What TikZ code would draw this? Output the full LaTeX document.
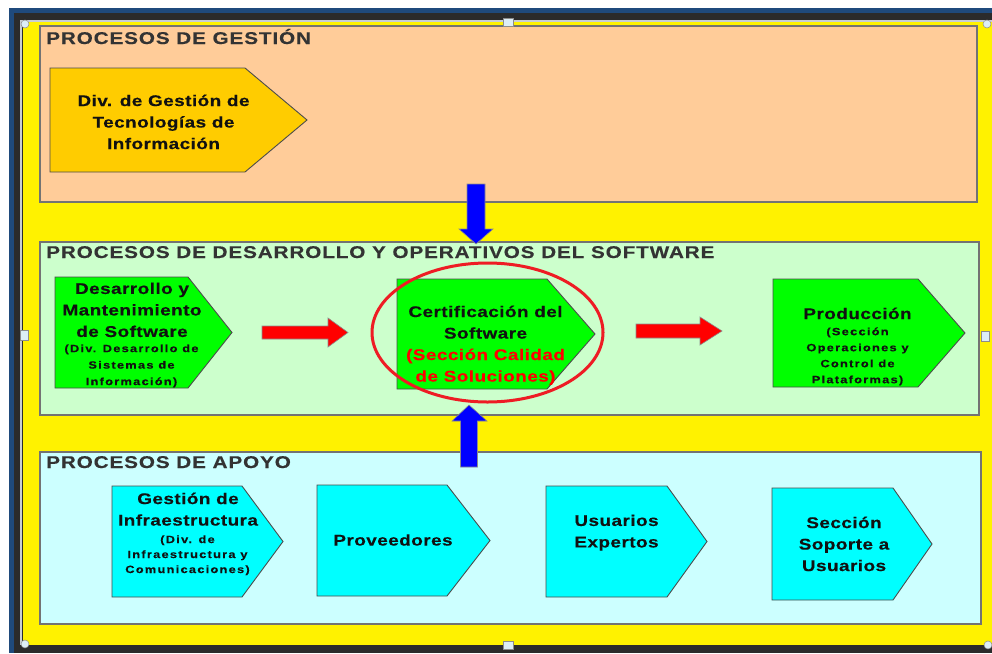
\documentclass[tikz,border=0pt]{standalone}
\usepackage{fontspec}
\setmainfont{Liberation Sans}
\newfontfamily\titlefam[FakeStretch=1.22,LetterSpace=5,FakeBold=0.3]{Liberation Sans}
\newfontfamily\boxfam[FakeStretch=1.22,LetterSpace=3,FakeBold=0.3]{Liberation Sans}
\newfontfamily\subfam[FakeStretch=1.22,LetterSpace=12,FakeBold=0.3]{Liberation Sans}
\newcommand\ptitle{\titlefam\bfseries\fontsize{17}{20}\selectfont}
\newcommand\pbig{\boxfam\bfseries\fontsize{15.5}{21.5}\selectfont}
\newcommand\psmall[1]{\subfam\bfseries\fontsize{10.5}{#1}\selectfont}

\definecolor{frameblue}{HTML}{1F4A7C}
\definecolor{framedark}{HTML}{2B2B2B}
\definecolor{selgray}{HTML}{C9CED3}
\definecolor{peach}{HTML}{FFCC99}
\definecolor{mint}{HTML}{CCFFCC}
\definecolor{ice}{HTML}{CCFFFF}
\definecolor{gold}{HTML}{FFCC00}
\definecolor{lime}{HTML}{00FF00}
\definecolor{aqua}{HTML}{00FFFF}
\definecolor{txt}{HTML}{111111}
\definecolor{ttl}{HTML}{333333}
\definecolor{arrowred}{HTML}{FF0000}
\definecolor{arrowblue}{HTML}{0000FF}
\definecolor{ringred}{HTML}{EE1C24}
\definecolor{handle}{HTML}{DDEEF6}

\tikzset{
  panel/.style={draw=black!55, line width=1.2pt},
  pent/.style={draw=black!70, line width=0.9pt},
  lbl/.style={align=center, inner sep=0pt, anchor=north, text=txt},
  bigtxt/.style={lbl, font=\pbig},
  smalltxt/.style={lbl, font={\psmall{#1}}},
  paneltitle/.style={anchor=base west, inner sep=0pt, text=ttl, font=\ptitle},
  blockarrow/.style={draw=black!45, line width=0.6pt},
  grip/.style={draw=black!45, fill=handle, line width=0.5pt},
}

% pentagon (arrow-shaped process box): x1,y1,(unused),y2,shoulder x,tip x,fill
\newcommand\procshape[7]{%
  \draw[pent, fill=#7] (#1,#2) -- (#5,#2) -- ({#6},{(#2+#4)/2}) -- (#5,#4) -- (#1,#4) -- cycle;}

\begin{document}
\begin{tikzpicture}[x=1pt, y=-1pt]
\useasboundingbox (0,0) rectangle (992,653);
\fill[white] (0,0) rectangle (992,653);

% window frame and background
\fill[frameblue] (9,8) rectangle (992,653);
\fill[framedark] (14,13) rectangle (992,653);
\fill[yellow] (23,22) rectangle (992,645);
\draw[selgray, line width=2pt] (992,21) -- (21,21) -- (21,645);

% three process panels
\draw[panel, fill=peach] (40,26) rectangle (977,202);
\draw[panel, fill=mint] (40,242) rectangle (979,415);
\draw[panel, fill=ice] (40,452) rectangle (981,624);

\node[paneltitle] (tg) at (46,44) {PROCESOS DE GESTIÓN};
\node[paneltitle] (td) at (46,258) {PROCESOS DE DESARROLLO Y OPERATIVOS DEL SOFTWARE};
\node[paneltitle] (ta) at (46,468) {PROCESOS DE APOYO};

% management
\procshape{50}{68}{307}{172}{245}{307}{gold}
\node[bigtxt] (gti) at (163.5,94.5) {Div. de Gestión de\\Tecnologías de\\Información};

% development and operations
\procshape{55}{277}{232}{388}{188}{232}{lime}
\node[bigtxt] (dev) at (132,282.5) {Desarrollo y\\Mantenimiento\\de Software};
\node[smalltxt=16.5] (devsub) at (131.5,344.3) {(Div. Desarrollo de\\Sistemas de\\Información)};

\procshape{397}{279}{595}{389}{547}{595}{lime}
\node[bigtxt] (cert) at (485.5,305.5) {Certificación del\\Software\\\textcolor{arrowred}{(Sección Calidad}\\\textcolor{arrowred}{de Soluciones)}};

\procshape{773}{279}{965}{387}{918}{965}{lime}
\node[bigtxt] (prod) at (857.5,307.5) {Producción};
\node[smalltxt=16] (prodsub) at (857.5,327.3) {(Sección\\Operaciones y\\Control de\\Plataformas)};

% support
\procshape{112}{486}{283}{597}{242}{283}{aqua}
\node[bigtxt] (infra) at (188,492.5) {Gestión de\\Infraestructura};
\node[smalltxt=15] (infrasub) at (187.5,535.2) {(Div. de\\Infraestructura y\\Comunicaciones)};

\procshape{317}{485}{490}{596}{447}{490}{aqua}
\node[bigtxt, anchor=center] (prov) at (393,540) {Proveedores};

\procshape{546}{486}{707}{597}{667}{707}{aqua}
\node[bigtxt] (usu) at (616.5,514.5) {Usuarios\\Expertos};

\procshape{772}{488}{932}{600}{893}{932}{aqua}
\node[bigtxt] (sop) at (844,516.5) {Sección\\Soporte a\\Usuarios};

% flow arrows
\draw[blockarrow, fill=arrowred] (262,326) -- (328,326) -- (328,318) -- (348,332.5) -- (328,347) -- (328,339) -- (262,339) -- cycle;
\draw[blockarrow, fill=arrowred] (636,324) -- (700,324) -- (700,317) -- (722,331) -- (700,345) -- (700,338) -- (636,338) -- cycle;
\draw[blockarrow, fill=arrowblue] (467,184) -- (485,184) -- (485,229) -- (493,229) -- (476,244) -- (459,229) -- (467,229) -- cycle;
\draw[blockarrow, fill=arrowblue] (460.5,467) -- (477.5,467) -- (477.5,421) -- (487,421) -- (469,405) -- (452,421) -- (460.5,421) -- cycle;

% highlight ring
\draw[ringred, line width=3pt] (487.5,332.5) ellipse [x radius=115.5, y radius=69.5];

% selection grips
\draw[grip] (503,18) rectangle (513,26);
\draw[grip] (503,641) rectangle (513,649);
\draw[grip] (20,330) rectangle (28,340);
\draw[grip] (981,331) rectangle (989,341);
\draw[grip] (25,24) circle [radius=4];
\draw[grip] (987,24) circle [radius=4];
\draw[grip] (25,644) circle [radius=4];
\draw[grip] (988,645) circle [radius=4];
\end{tikzpicture}
\end{document}
